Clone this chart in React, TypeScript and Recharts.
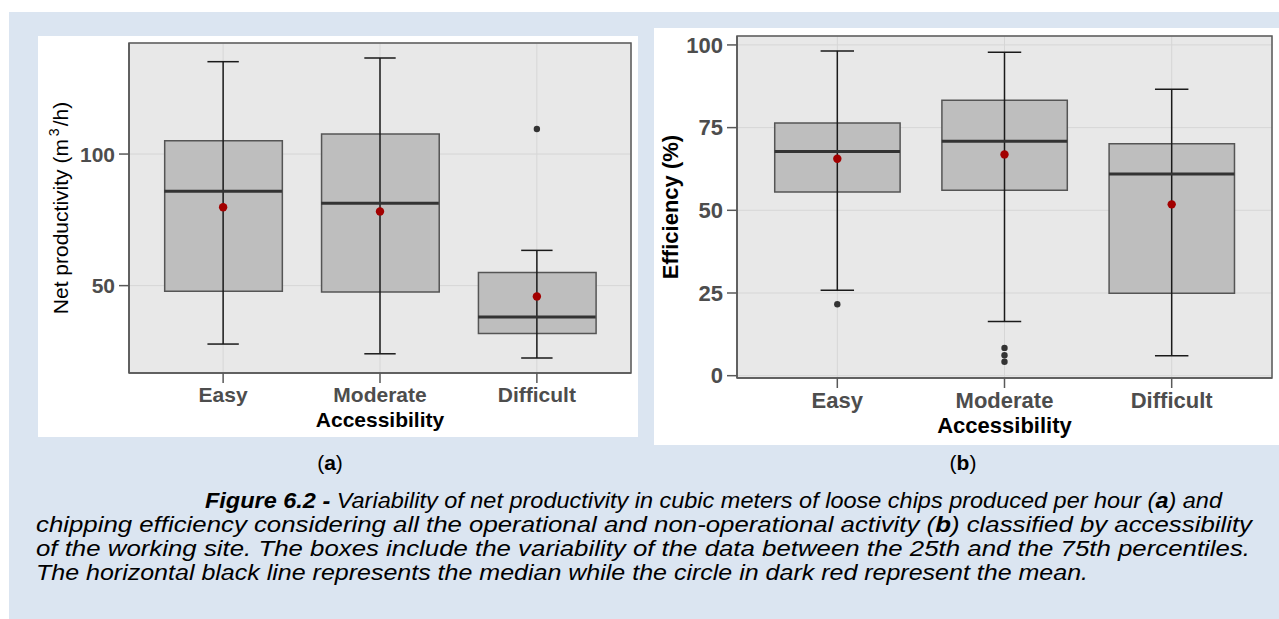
import React from 'react';
import {
  ComposedChart,
  Bar,
  Scatter,
  ErrorBar,
  XAxis,
  YAxis,
  CartesianGrid,
  ReferenceArea,
  Label,
} from 'recharts';

const FONT = '"Liberation Sans", Arial, Helvetica, sans-serif';

// Shared categorical axis: boxes sit at 1, 2, 3 on a [0.4, 3.6] axis
const categories = ['Easy', 'Moderate', 'Difficult'];
const categoryPositions = [1, 2, 3];
const xDomain: [number, number] = [0.4, 3.6];
const BOX_WIDTH_UNITS = 0.75;
const CAP_WIDTH_UNITS = 0.2;

// (a) Net productivity, m3/h
const prodLowerWhisker = [27.8, 24.1, 22.5];
const prodQ1 = [47.9, 47.6, 31.8];
const prodMedian = [85.9, 81.3, 38.1];
const prodQ3 = [105.1, 107.6, 55.0];
const prodUpperWhisker = [135.1, 136.5, 63.4];
const prodMean = [79.8, 78.2, 45.9];
const prodOutlierPositions = [3];
const prodOutlierValues = [109.5];
const prodTicks = [50, 100];
const prodDomain: [number, number] = [16.8, 142.2];

// (b) Efficiency, %
const effLowerWhisker = [25.8, 16.4, 6.0];
const effQ1 = [55.5, 56.1, 24.9];
const effMedian = [67.8, 70.9, 61.0];
const effQ3 = [76.4, 83.3, 70.1];
const effUpperWhisker = [98.2, 97.8, 86.6];
const effMean = [65.6, 66.9, 51.8];
const effOutlierPositions = [1, 2, 2, 2];
const effOutlierValues = [21.6, 8.4, 6.2, 4.2];
const effTicks = [0, 25, 50, 75, 100];
const effDomain: [number, number] = [-0.7, 102.7];

const captionLines = [
  'chipping efficiency considering all the operational and non-operational activity (',
  'of the working site. The boxes include the variability of the data between the 25th and the 75th percentiles.',
  'The horizontal black line represents the median while the circle in dark red represent the mean.',
];

type Stats = {
  lo: number[];
  q1: number[];
  med: number[];
  q3: number[];
  hi: number[];
  mean: number[];
  outPos: number[];
  outVal: number[];
};

type PanelProps = {
  width: number;
  height: number;
  margin: { top: number; right: number; left: number; bottom: number };
  yAxisWidth: number;
  xAxisHeight: number;
  stats: Stats;
  domain: [number, number];
  ticks: number[];
  fontSize: number;
  tickSize: number;
  tickMargin: number;
  xLabelOffset: number;
  yLabel: (props: any) => React.ReactElement;
};

function BoxPanel(p: PanelProps) {
  const { stats } = p;
  const rows = categoryPositions.map((x, i) => ({
    x,
    box: [stats.q1[i], stats.q3[i]],
    median: stats.med[i],
    mean: stats.mean[i],
    whisker: [stats.med[i] - stats.lo[i], stats.hi[i] - stats.med[i]],
  }));
  const outliers = stats.outPos.map((x, i) => ({ x, value: stats.outVal[i] }));

  const plotW = p.width - p.margin.left - p.margin.right - p.yAxisWidth;
  const unitPx = plotW / (xDomain[1] - xDomain[0]);
  const boxPx = unitPx * BOX_WIDTH_UNITS;
  const capPx = unitPx * CAP_WIDTH_UNITS;

  const tickStyle = {
    fill: '#4d4d4d',
    fontSize: p.fontSize,
    fontWeight: 700,
    fontFamily: FONT,
  };
  const axisStroke = { stroke: '#595959', strokeWidth: 1.5 };

  const medianShape = (s: any) => (
    <line
      x1={s.cx - boxPx / 2}
      x2={s.cx + boxPx / 2}
      y1={s.cy}
      y2={s.cy}
      stroke="#333333"
      strokeWidth={3}
    />
  );
  const meanShape = (s: any) => <circle cx={s.cx} cy={s.cy} r={4.2} fill="#a30000" />;
  const outlierShape = (s: any) => <circle cx={s.cx} cy={s.cy} r={3.2} fill="#333333" />;

  return (
    <ComposedChart width={p.width} height={p.height} data={rows} margin={p.margin}>
      <CartesianGrid fill="#e8e8e8" fillOpacity={1} stroke="#d6d6d6" strokeWidth={1} />
      <XAxis
        dataKey="x"
        type="number"
        domain={xDomain}
        ticks={categoryPositions}
        interval={0}
        allowDataOverflow
        tickFormatter={(v: number) => categories[v - 1]}
        height={p.xAxisHeight}
        tickSize={p.tickSize}
        tickMargin={p.tickMargin}
        axisLine={axisStroke}
        tickLine={axisStroke}
        tick={tickStyle}
      >
        <Label
          value="Accessibility"
          position="insideBottom"
          offset={p.xLabelOffset}
          style={{ fontFamily: FONT, fontWeight: 700, fontSize: p.fontSize, fill: '#000000' }}
        />
      </XAxis>
      <YAxis
        type="number"
        domain={p.domain}
        ticks={p.ticks}
        interval={0}
        allowDataOverflow
        width={p.yAxisWidth}
        tickSize={p.tickSize}
        tickMargin={p.tickMargin}
        axisLine={axisStroke}
        tickLine={axisStroke}
        tick={tickStyle}
      >
        <Label content={p.yLabel} />
      </YAxis>
      <Bar
        dataKey="box"
        barSize={boxPx}
        fill="#bebebe"
        stroke="#555555"
        strokeWidth={1.5}
        isAnimationActive={false}
      />
      <Scatter dataKey="median" shape={medianShape} isAnimationActive={false}>
        <ErrorBar
          dataKey="whisker"
          direction="y"
          width={capPx / 2}
          stroke="#1a1a1a"
          strokeWidth={1.5}
          isAnimationActive={false}
        />
      </Scatter>
      <Scatter dataKey="mean" shape={meanShape} isAnimationActive={false} />
      <Scatter data={outliers} dataKey="value" shape={outlierShape} isAnimationActive={false} />
      <ReferenceArea
        x1={xDomain[0]}
        x2={xDomain[1]}
        y1={p.domain[0]}
        y2={p.domain[1]}
        fill="none"
        stroke="#595959"
        strokeWidth={1.5}
        ifOverflow="visible"
      />
    </ComposedChart>
  );
}

const prodYLabel = (props: any) => {
  const vb = props.viewBox || { x: 0, y: 0, width: 0, height: 0 };
  const cx = vb.x - 1;
  const cy = vb.y + vb.height / 2;
  return (
    <text
      x={cx}
      y={cy}
      transform={`rotate(-90 ${cx} ${cy})`}
      textAnchor="middle"
      fontFamily={FONT}
      fontSize={21}
      fill="#000000"
    >
      Net productivity (m
      <tspan dx={3} dy={-9} fontSize={14}>
        3
      </tspan>
      <tspan dx={2} dy={9}>
        /h)
      </tspan>
    </text>
  );
};

const effYLabel = (props: any) => {
  const vb = props.viewBox || { x: 0, y: 0, width: 0, height: 0 };
  const cx = vb.x + 1;
  const cy = vb.y + vb.height / 2;
  return (
    <text
      x={cx}
      y={cy}
      transform={`rotate(-90 ${cx} ${cy})`}
      textAnchor="middle"
      fontFamily={FONT}
      fontSize={22}
      fontWeight={700}
      fill="#000000"
    >
      Efficiency (%)
    </text>
  );
};

export default function App() {
  const capStyle: React.CSSProperties = {
    fontFamily: FONT,
    fontSize: 22,
    fontStyle: 'italic',
    fill: '#000000',
  };
  return (
    <div
      style={{
        position: 'absolute',
        left: 0,
        top: 0,
        width: 1279,
        height: 619,
        background: '#ffffff',
        overflow: 'hidden',
      }}
    >
      <div
        style={{
          position: 'absolute',
          left: 9,
          top: 12,
          width: 1270,
          height: 607,
          background: '#dbe5f1',
        }}
      />
      <div style={{ position: 'absolute', left: 38, top: 36, width: 600, height: 401, background: '#fff' }}>
        <BoxPanel
          width={600}
          height={401}
          margin={{ top: 7, right: 7, left: 31, bottom: 0 }}
          yAxisWidth={60}
          xAxisHeight={64}
          stats={{
            lo: prodLowerWhisker,
            q1: prodQ1,
            med: prodMedian,
            q3: prodQ3,
            hi: prodUpperWhisker,
            mean: prodMean,
            outPos: prodOutlierPositions,
            outVal: prodOutlierValues,
          }}
          domain={prodDomain}
          ticks={prodTicks}
          fontSize={21}
          tickSize={10}
          tickMargin={4}
          xLabelOffset={10}
          yLabel={prodYLabel}
        />
      </div>
      <div style={{ position: 'absolute', left: 654, top: 28, width: 625, height: 417, background: '#fff' }}>
        <BoxPanel
          width={625}
          height={417}
          margin={{ top: 8, right: 7, left: 23, bottom: 0 }}
          yAxisWidth={60}
          xAxisHeight={67}
          stats={{
            lo: effLowerWhisker,
            q1: effQ1,
            med: effMedian,
            q3: effQ3,
            hi: effUpperWhisker,
            mean: effMean,
            outPos: effOutlierPositions,
            outVal: effOutlierValues,
          }}
          domain={effDomain}
          ticks={effTicks}
          fontSize={22}
          tickSize={10}
          tickMargin={4}
          xLabelOffset={12}
          yLabel={effYLabel}
        />
      </div>
      <svg
        width={1279}
        height={619}
        style={{ position: 'absolute', left: 0, top: 0, pointerEvents: 'none' }}
      >
        <text x={330} y={470} textAnchor="middle" fontFamily={FONT} fontSize={21} fill="#000">
          (<tspan fontWeight={700}>a</tspan>)
        </text>
        <text x={963} y={470} textAnchor="middle" fontFamily={FONT} fontSize={21} fill="#000">
          (<tspan fontWeight={700}>b</tspan>)
        </text>
        <text x={205} y={508} style={capStyle} textLength={1017} lengthAdjust="spacingAndGlyphs">
          <tspan fontWeight={700}>Figure 6.2 - </tspan>
          Variability of net productivity in cubic meters of loose chips produced per hour (
          <tspan fontWeight={700}>a</tspan>) and
        </text>
        <text x={36} y={532} style={capStyle} textLength={1216} lengthAdjust="spacingAndGlyphs">
          {captionLines[0]}
          <tspan fontWeight={700}>b</tspan>) classified by accessibility
        </text>
        <text x={36} y={556} style={capStyle} textLength={1214} lengthAdjust="spacingAndGlyphs">
          {captionLines[1]}
        </text>
        <text x={36} y={580} style={capStyle} textLength={1052} lengthAdjust="spacingAndGlyphs">
          {captionLines[2]}
        </text>
      </svg>
    </div>
  );
}
